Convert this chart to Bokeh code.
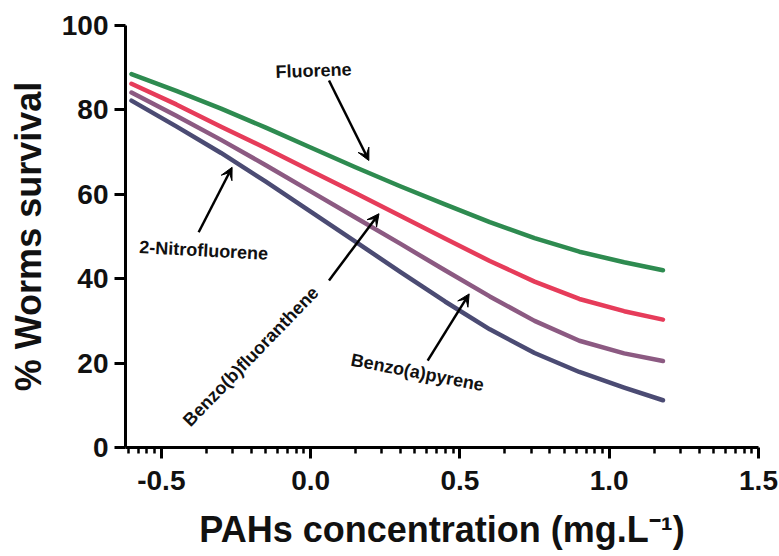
from bokeh.plotting import figure
from bokeh.models import FixedTicker, Arrow, VeeHead, Label, ColumnDataSource
from bokeh.embed import file_html
from bokeh.resources import INLINE
import math

# ---- data ----
log_conc = [-0.60, -0.45, -0.30, -0.15, 0.00, 0.15, 0.30, 0.45, 0.60, 0.75, 0.90, 1.05, 1.18]
fluorene = [88.5, 84.5, 80.3, 75.8, 71.1, 66.4, 61.9, 57.6, 53.4, 49.6, 46.4, 43.9, 42.0]
benzo_b_fluoranthene = [86.2, 81.3, 76.0, 70.9, 65.6, 60.3, 54.9, 49.5, 44.2, 39.3, 35.2, 32.3, 30.3]
benzo_a_pyrene = [84.1, 78.6, 72.9, 66.9, 60.7, 54.5, 48.3, 42.0, 35.8, 30.0, 25.3, 22.3, 20.5]
nitrofluorene = [82.2, 76.1, 69.8, 63.0, 55.9, 48.8, 41.6, 34.6, 28.0, 22.4, 17.9, 14.2, 11.2]

x_major_ticks = [-0.5, 0.0, 0.5, 1.0, 1.5]
y_major_ticks = [0, 20, 40, 60, 80, 100]

series_names = ["Fluorene", "Benzo(b)fluoranthene", "Benzo(a)pyrene", "2-Nitrofluorene"]
series_values = [fluorene, benzo_b_fluoranthene, benzo_a_pyrene, nitrofluorene]
series_colors = ["#2e8b50", "#e63c5a", "#8c5a82", "#4b4b73"]

FONT = "Liberation Sans"

p = figure(frame_width=633, frame_height=422, x_range=(-0.62, 1.5), y_range=(0, 100),
           output_backend="svg", toolbar_location=None,
           min_border_left=125, min_border_right=21, min_border_top=25, min_border_bottom=109)
p.outline_line_color = None
p.xgrid.visible = False
p.ygrid.visible = False
p.background_fill_color = "white"
p.border_fill_color = "white"

for name, vals, col in zip(series_names, series_values, series_colors):
    src = ColumnDataSource(dict(x=log_conc, y=vals))
    p.line("x", "y", source=src, line_color=col, line_width=4.5, line_cap="round", line_join="round")

# minor ticks: log-style subdivisions inside each 0.5 interval
minor = []
for base in [-1.0, -0.5, 0.0, 0.5, 1.0]:
    for k in range(2, 10):
        v = base + 0.5 * math.log10(k)
        if -0.62 <= v <= 1.5:
            minor.append(v)

xa = p.xaxis[0]
xa.ticker = FixedTicker(ticks=x_major_ticks, minor_ticks=minor)
xa.major_label_overrides = {-0.5: "-0.5", 0.0: "0.0", 0.5: "0.5", 1.0: "1.0", 1.5: "1.5"}
xa.axis_label = "PAHs concentration (mg.L\u207b\u00b9)"
ya = p.yaxis[0]
ya.ticker = FixedTicker(ticks=y_major_ticks, minor_ticks=[])
ya.axis_label = "% Worms survival"

for ax in (xa, ya):
    ax.axis_line_width = 3
    ax.axis_line_color = "black"
    ax.major_tick_line_width = 3
    ax.major_tick_line_color = "black"
    ax.minor_tick_line_width = 2.5
    ax.minor_tick_line_color = "black"
    ax.major_tick_in = 0
    ax.major_tick_out = 11
    ax.minor_tick_in = 0
    ax.minor_tick_out = 6
    ax.major_label_text_font = FONT
    ax.major_label_text_font_style = "bold"
    ax.major_label_text_font_size = "28px"
    ax.major_label_text_color = "#111111"
    ax.axis_label_text_font = FONT
    ax.axis_label_text_font_style = "bold"
    ax.axis_label_text_font_size = "36px"
    ax.axis_label_text_color = "#111111"

xa.major_label_standoff = 12
xa.axis_label_standoff = 16
ya.major_label_standoff = 6
ya.axis_label_standoff = 10

# annotations
def add_label(x, y, text, angle_deg):
    p.add_layout(Label(x=x, y=y, text=text, angle=math.radians(angle_deg),
                       text_align="center", text_baseline="middle",
                       text_font=FONT, text_font_style="bold", text_font_size="18px",
                       text_color="#111111"))

add_label(0.01, 89.3, "Fluorene", 2)
add_label(-0.358, 46.7, "2-Nitrofluorene", -3)
add_label(-0.20, 21.6, "Benzo(b)fluoranthene", 46)
add_label(0.358, 17.8, "Benzo(a)pyrene", -11)

def add_arrow(x0, y0, x1, y1):
    p.add_layout(Arrow(x_start=x0, y_start=y0, x_end=x1, y_end=y1,
                       line_width=2.5, line_color="black",
                       end=VeeHead(size=12, fill_color="black", line_color="black", line_width=1)))

add_arrow(0.0615, 86.97, 0.195, 68.0)
add_arrow(-0.375, 51.0, -0.263, 66.4)
add_arrow(0.0615, 39.6, 0.229, 55.4)
add_arrow(0.392, 20.6, 0.531, 36.4)

open("out.html", "w").write(file_html(p, INLINE))
